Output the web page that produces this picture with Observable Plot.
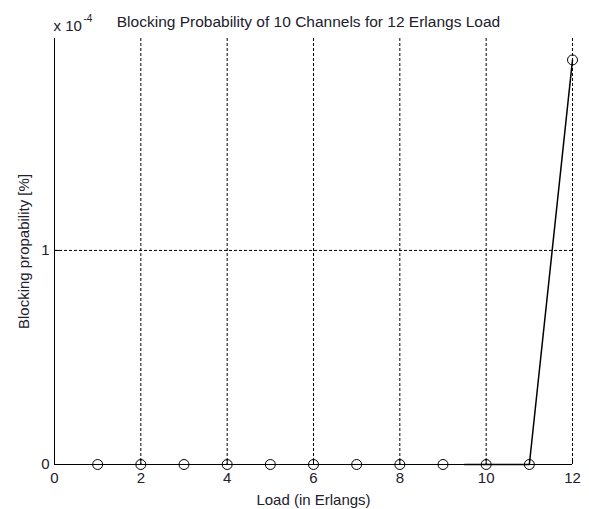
<!DOCTYPE html>
<html>
<head>
<meta charset="utf-8">
<script src="https://cdn.jsdelivr.net/npm/d3@7"></script>
<script src="https://cdn.jsdelivr.net/npm/@observablehq/plot@0.6"></script>
<style>
  html, body { margin: 0; padding: 0; background: #fff; }
  #chart svg { display: block; }
</style>
</head>
<body>
<div id="chart"></div>
<script>
// Blocking probability (fraction) against offered load in Erlangs
const loads = [1, 2, 3, 4, 5, 6, 7, 8, 9, 10, 11, 12];
const blocking = [0, 0, 0, 0, 0, 0, 0, 0, 0, 0, 0, 1.89e-4];

// plotted curve segment
const curveLoads = [9.5, 10, 11, 12];
const curveBlocking = [0, 0, 0, 1.89e-4];

const xTicks = [0, 2, 4, 6, 8, 10, 12];
const yTicks = [0, 1e-4];
const yScaleExp = 1e-4;

const titleText = "Blocking Probability of 10 Channels for 12 Erlangs Load";
const xLabelText = "Load (in Erlangs)";
const yLabelText = "Blocking propability [%]";

const points = loads.map((x, i) => ({x, y: blocking[i]}));
const curve = curveLoads.map((x, i) => ({x, y: curveBlocking[i]}));

const ink = "#20202e";
const font = "Liberation Sans, Arial, sans-serif";

const chart = Plot.plot({
  width: 589,
  height: 509,
  marginLeft: 54,
  marginRight: 17,
  marginTop: 38,
  marginBottom: 45,
  style: {fontFamily: font, fontSize: "15px", color: ink, background: "#fff"},
  x: {domain: [0, 12]},
  y: {domain: [0, 1.99e-4]},
  marks: [
    // dashed grid
    Plot.ruleX(xTicks.filter(d => d > 0), {stroke: "#000", strokeWidth: 1, strokeDasharray: "3,2", strokeOpacity: 1}),
    Plot.ruleY(yTicks.filter(d => d > 0), {stroke: "#000", strokeWidth: 1, strokeDasharray: "3,2", strokeOpacity: 1}),
    // axes with inward ticks
    Plot.axisX({ticks: xTicks, tickSize: -5, tickPadding: 13, tickFormat: d => d, label: null, stroke: "#000", fill: ink, fontSize: 15}),
    Plot.axisY({ticks: yTicks, tickSize: -5, tickPadding: 10, tickFormat: d => Math.round(d / yScaleExp), label: null, stroke: "#000", fill: ink, fontSize: 15}),
    Plot.ruleX([0], {stroke: "#000", strokeWidth: 1}),
    Plot.ruleY([0], {stroke: "#000", strokeWidth: 1}),
    // curve and markers
    Plot.line(curve, {x: "x", y: "y", stroke: "#000", strokeWidth: 1.5}),
    Plot.dot(points, {x: "x", y: "y", r: 5, stroke: "#000", strokeWidth: 1, fill: "none"}),
    // titles
    Plot.text([titleText], {frameAnchor: "top", dx: -5, dy: -23, fill: ink, fontSize: 15.5}),
    Plot.text([xLabelText], {frameAnchor: "bottom", dy: 40, fill: ink, fontSize: 15}),
    Plot.text([yLabelText], {frameAnchor: "left", dx: -30, rotate: -90, textAnchor: "middle", fill: ink, fontSize: 15}),
    // exponent of the y axis
    Plot.text(["x 10"], {frameAnchor: "top-left", dx: -1, dy: -18, textAnchor: "start", fill: ink, fontSize: 15}),
    Plot.text(["-4"], {frameAnchor: "top-left", dx: 29, dy: -24, textAnchor: "start", fill: ink, fontSize: 10})
  ]
});

document.getElementById("chart").appendChild(chart);
</script>
</body>
</html>
